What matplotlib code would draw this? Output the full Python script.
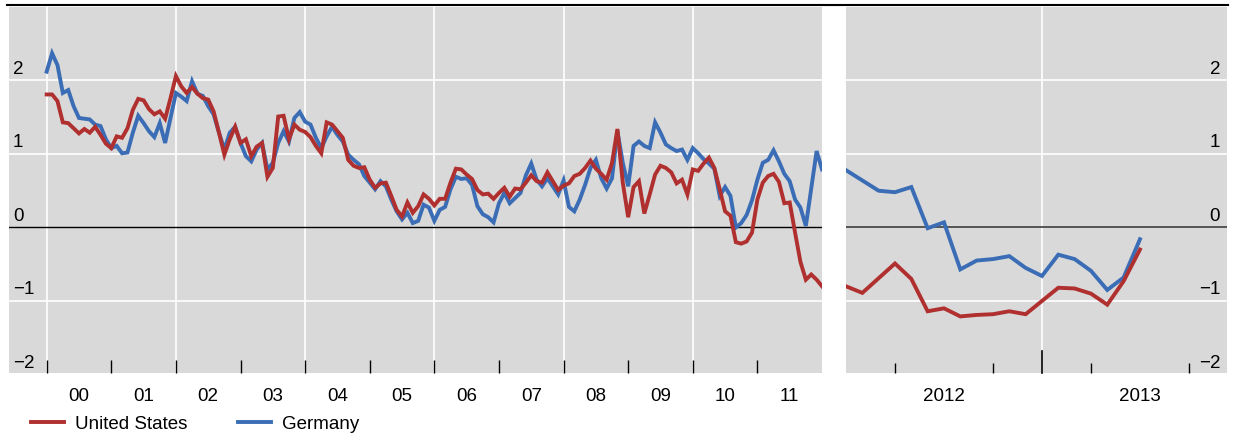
import numpy as np
import matplotlib
matplotlib.use("Agg")
import matplotlib.pyplot as plt
from matplotlib.lines import Line2D

plt.rcParams['font.family'] = ['Liberation Sans', 'DejaVu Sans']

# monthly values, Jan 2000 .. Jan 2012
us_long = [1.81, 1.81, 1.72, 1.43, 1.42, 1.35, 1.28, 1.34, 1.29, 1.37, 1.26, 1.14,
           1.08, 1.24, 1.22, 1.35, 1.60, 1.75, 1.73, 1.61, 1.54, 1.58, 1.48, 1.76,
           2.06, 1.92, 1.83, 1.91, 1.82, 1.76, 1.74, 1.58, 1.29, 0.99, 1.20, 1.37,
           1.15, 1.20, 0.97, 1.10, 1.15, 0.69, 0.81, 1.51, 1.52, 1.20, 1.40, 1.33,
           1.30, 1.23, 1.11, 1.01, 1.43, 1.40, 1.31, 1.22, 0.92, 0.84, 0.81, 0.82,
           0.65, 0.54, 0.60, 0.61, 0.43, 0.24, 0.15, 0.34, 0.20, 0.29, 0.45, 0.39,
           0.30, 0.39, 0.39, 0.61, 0.80, 0.79, 0.72, 0.66, 0.51, 0.45, 0.46, 0.39,
           0.47, 0.54, 0.42, 0.53, 0.52, 0.61, 0.71, 0.63, 0.61, 0.75, 0.63, 0.51,
           0.57, 0.60, 0.70, 0.73, 0.81, 0.91, 0.80, 0.73, 0.65, 0.88, 1.34, 0.61,
           0.14, 0.55, 0.63, 0.19, 0.45, 0.72, 0.84, 0.81, 0.75, 0.60, 0.65, 0.45,
           0.79, 0.77, 0.87, 0.95, 0.81, 0.52, 0.22, 0.16, -0.20, -0.22, -0.19, -0.07,
           0.38, 0.61, 0.70, 0.73, 0.62, 0.33, 0.34, -0.07, -0.47, -0.71, -0.64, -0.71,
           -0.80]
de_long = [2.12, 2.37, 2.21, 1.83, 1.87, 1.65, 1.49, 1.48, 1.47, 1.40, 1.38, 1.20,
           1.08, 1.11, 1.01, 1.02, 1.29, 1.52, 1.42, 1.31, 1.23, 1.42, 1.15, 1.49,
           1.83, 1.78, 1.72, 1.99, 1.82, 1.79, 1.65, 1.54, 1.29, 1.06, 1.29, 1.37,
           1.15, 0.97, 0.90, 1.06, 1.15, 0.79, 0.88, 1.15, 1.31, 1.17, 1.49, 1.57,
           1.44, 1.40, 1.22, 1.08, 1.24, 1.37, 1.26, 1.17, 0.99, 0.92, 0.86, 0.70,
           0.61, 0.52, 0.63, 0.56, 0.38, 0.22, 0.11, 0.20, 0.06, 0.09, 0.31, 0.27,
           0.09, 0.24, 0.28, 0.52, 0.69, 0.66, 0.67, 0.58, 0.29, 0.18, 0.14, 0.07,
           0.33, 0.47, 0.33, 0.40, 0.47, 0.71, 0.87, 0.65, 0.56, 0.67, 0.56, 0.45,
           0.64, 0.28, 0.22, 0.38, 0.58, 0.81, 0.92, 0.67, 0.53, 0.67, 1.31, 0.88,
           0.56, 1.11, 1.17, 1.11, 1.08, 1.43, 1.29, 1.13, 1.08, 1.04, 1.06, 0.92,
           1.08, 1.01, 0.93, 0.87, 0.80, 0.43, 0.55, 0.43, 0.00, 0.06, 0.17, 0.37,
           0.65, 0.88, 0.92, 1.05, 0.90, 0.73, 0.63, 0.38, 0.27, 0.02, 0.53, 1.04,
           0.79]

# monthly values, Jan 2012 .. Jul 2013
us_short = [-0.80, -0.89, -0.69, -0.49, -0.70, -1.14, -1.10, -1.21, -1.19, -1.18,
            -1.14, -1.18, -1.00, -0.82, -0.83, -0.90, -1.05, -0.73, -0.30]
de_short = [0.78, 0.64, 0.50, 0.48, 0.55, -0.01, 0.07, -0.57, -0.45, -0.43,
            -0.39, -0.55, -0.66, -0.37, -0.43, -0.59, -0.85, -0.68, -0.16]

year_labels = ["00", "01", "02", "03", "04", "05", "06", "07", "08", "09", "10", "11"]
short_labels = ["2012", "2013"]
y_ticks = [2, 1, 0, -1, -2]
y_labels = ["2", "1", "0", "\u22121", "\u22122"]

RED = "#B0302F"
BLUE = "#3A6DB5"
BG = "#D9D9D9"
FS = 13.5

x_long = 2000 + np.arange(len(us_long)) / 12
x_short = 2012 + np.arange(len(us_short)) / 12

fig = plt.figure(figsize=(12.36, 4.4), dpi=100)
W, H = 1236, 440
ax1 = fig.add_axes([9 / W, (H - 373) / H, 813 / W, 366 / H])
ax2 = fig.add_axes([846 / W, (H - 373) / H, 381 / W, 366 / H])

for ax in (ax1, ax2):
    ax.set_facecolor(BG)
    for s in ax.spines.values():
        s.set_visible(False)
    ax.set_ylim(-1.98, 3.0)
    ax.set_yticks([])
    for v in (-1, 1, 2):
        ax.axhline(v, color="white", lw=1.2, zorder=1)

# left panel
ax1.set_xlim(1999 + 5 / 12, 2012.0)
for yr in range(2000, 2011, 2):
    ax1.axvline(yr, color="white", lw=1.2, zorder=1)
ax1.axhline(0, color="black", lw=1.0, zorder=2)
ax1.plot(x_long, us_long, color=RED, lw=2.8, zorder=4, solid_joinstyle="miter")
ax1.plot(x_long, de_long, color=BLUE, lw=2.8, zorder=3, solid_joinstyle="miter")
ax1.set_xticks(np.arange(2000, 2012) + 0.5)
ax1.set_xticklabels(year_labels, fontsize=FS)
ax1.tick_params(axis="x", which="major", length=0, pad=10.5)
ax1.set_xticks(np.arange(2000, 2012), minor=True)
ax1.tick_params(axis="x", which="minor", direction="in", length=9.5, width=1.0, color="black")
for v, lab in zip(y_ticks, y_labels):
    ax1.text(0.005, v + 0.04, lab, transform=ax1.get_yaxis_transform(),
             ha="left", va="bottom", fontsize=FS)

# right panel
ax2.set_xlim(2012.0, 2012 + 23.33 / 12)
ax2.axvline(2013.0, color="white", lw=1.2, zorder=1)
ax2.axhline(0, color="#555555", lw=1.4, zorder=2)
ax2.plot(x_short, us_short, color=RED, lw=2.8, zorder=4, solid_joinstyle="miter")
ax2.plot(x_short, de_short, color=BLUE, lw=2.8, zorder=3, solid_joinstyle="miter")
ax2.set_xticks([2012.5, 2013.5])
ax2.set_xticklabels(short_labels, fontsize=FS)
ax2.tick_params(axis="x", which="major", length=0, pad=10.5)
ax2.set_xticks([2012.25, 2012.5, 2012.75, 2013.25, 2013.5, 2013.75], minor=True)
ax2.tick_params(axis="x", which="minor", direction="in", length=7.2, width=1.0, color="black")
ax2.plot([2013.0, 2013.0], [-1.98, -1.98 + 22 / 73.6], color="black", lw=1.2,
         zorder=5, clip_on=False)
for v, lab in zip(y_ticks, y_labels):
    ax2.text(0.982, v + 0.04, lab, transform=ax2.get_yaxis_transform(),
             ha="right", va="bottom", fontsize=FS)

# top rule
fig.add_artist(Line2D([7 / W, 1228 / W], [1 - 5 / H, 1 - 5 / H], color="black",
                      lw=1.5, transform=fig.transFigure))

handles = [Line2D([], [], color=RED, lw=2.8), Line2D([], [], color=BLUE, lw=2.8)]
fig.legend(handles, ["United States", "Germany"], loc="center left",
           bbox_to_anchor=(31 / W, 16 / H), ncol=2, frameon=False, fontsize=FS,
           handlelength=1.76, handletextpad=0.59, columnspacing=2.7,
           borderpad=0, borderaxespad=0)

fig.savefig("out.png", dpi=100)
